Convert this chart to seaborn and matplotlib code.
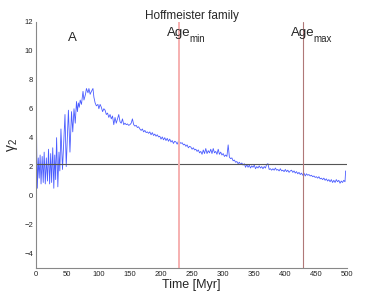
import numpy as np
import pandas as pd
import seaborn as sns
import matplotlib
matplotlib.use("Agg")
import matplotlib.pyplot as plt

# # DATA

time_myr = [
    0, 1, 2, 3.5, 5, 6.5, 8, 9.8, 11.5, 13, 14.8, 16.5, 18.3, 20, 21.8, 23.5,
    25, 26.8, 28.5, 30, 31.5, 33, 35, 36.8, 38.2, 40, 42.5, 46.5, 48.5, 52,
    54.5, 57, 59, 61, 63, 65, 66.5, 68, 69.5, 71, 73, 75.5, 77, 79.5, 81,
    83.5, 85, 87, 89, 91.5, 93, 95, 97, 99.5, 101, 103, 105, 107, 109, 111,
    113, 115, 117, 119, 121, 123, 125, 127, 129, 131, 133, 135, 137, 139,
    141, 143, 145, 147, 149, 151, 153, 155, 157, 159, 161, 163, 165, 167,
    169, 171, 173, 175, 177, 179, 181, 183, 185, 187, 189, 191, 193, 195,
    197, 199, 201, 203, 205, 207, 209, 211, 213, 215, 217, 219, 221, 223,
    225, 227, 229, 231, 233, 235, 237, 239, 241, 243, 245, 247, 249, 251,
    253, 255, 257, 259, 261, 263, 265, 267, 269, 271, 273, 275, 277, 279,
    281, 283, 285, 287, 289, 291, 293, 295, 297, 299, 301, 303, 305, 307,
    309, 311, 313, 315, 317, 319, 321, 323, 325, 327, 329, 331, 333, 335,
    337, 339, 341, 343, 345, 347, 349, 351, 353, 355, 357, 359, 361, 363,
    365, 367, 369, 371, 373, 375, 377, 379, 381, 383, 385, 387, 389, 391,
    393, 395, 397, 399, 401, 403, 405, 407, 409, 411, 413, 415, 417, 419,
    421, 423, 425, 427, 429, 431, 433, 435, 437, 439, 441, 443, 445, 447,
    449, 451, 453, 455, 457, 459, 461, 463, 465, 467, 469, 471, 473, 475,
    477, 479, 481, 483, 485, 487, 489, 491, 493, 495, 497, 498,
]

gamma2 = [
    8.5, 3.2, 0.5, 2.6, 1.2, 2.8, 0.8, 2.7, 0.9, 3.0, 0.8, 2.6, 1.0, 3.2, 0.8, 2.9,
    0.9, 3.3, 0.5, 2.8, 1.1, 4.0, 0.6, 3.0, 1.7, 4.6, 1.8, 5.6, 2.0, 5.9,
    3.0, 5.8, 4.4, 6.0, 5.0, 6.5, 5.8, 6.4, 6.1, 6.6, 6.3, 7.2, 6.6, 7.0, 7.4,
    7.1, 7.4, 7.0, 7.2, 7.4, 6.8, 6.4, 6.2, 6.3, 6.0, 6.3, 6.1, 5.8, 6.0, 5.9,
    5.6, 5.7, 5.4, 5.6, 5.3, 5.5, 4.9, 5.4, 5.0, 5.3, 5.6, 5.1, 5.0, 5.3,
    4.9, 5.0, 4.9, 4.95, 4.85, 4.9, 5.0, 5.3, 4.9, 4.8, 4.85, 4.7, 4.75, 4.6,
    4.5, 4.6, 4.4, 4.5, 4.35, 4.4, 4.3, 4.4, 4.2, 4.35, 4.15, 4.25, 4.1, 4.2,
    4.05, 4.1, 3.9, 4.05, 3.85, 4.0, 3.8, 3.95, 3.75, 3.9, 3.7, 3.8, 3.6, 3.75,
    3.7, 3.55, 3.75, 3.7, 3.6, 3.65, 3.5, 3.55, 3.4, 3.5, 3.3, 3.4, 3.35, 3.2,
    3.3, 3.15, 3.2, 3.05, 3.15, 2.95, 3.05, 2.85, 3.15, 2.9, 3.25, 2.9, 3.1, 2.95,
    3.2, 2.9, 3.25, 2.95, 3.05, 2.85, 3.2, 2.85, 3.0, 2.8, 2.9, 2.7, 2.8, 2.7,
    3.5, 2.65, 2.55, 2.6, 2.4, 2.45, 2.3, 2.35, 2.2, 2.3, 2.15, 2.25, 2.1, 2.2,
    1.95, 2.15, 1.95, 2.1, 1.9, 2.05, 1.95, 2.1, 1.85, 2.0, 1.9, 2.05, 1.9, 2.0,
    1.85, 2.0, 1.9, 2.15, 2.2, 1.8, 1.85, 1.75, 1.85, 1.75, 1.9, 1.75, 1.8, 1.7,
    1.85, 1.7, 1.75, 1.65, 1.8, 1.65, 1.75, 1.6, 1.7, 1.75, 1.6, 1.7, 1.55, 1.65,
    1.5, 1.6, 1.45, 1.55, 1.4, 1.55, 1.35, 1.5, 1.4, 1.45, 1.35, 1.4, 1.3, 1.35,
    1.25, 1.3, 1.2, 1.3, 1.15, 1.2, 1.1, 1.2, 1.05, 1.15, 1.0, 1.1, 0.95, 1.1,
    0.9, 1.05, 0.9, 1.1, 0.95, 1.05, 0.85, 1.0, 0.9, 1.05, 0.95, 1.7,
]

age_min = 230
age_max = 430
gamma_ref = 2.2

# # STYLE

sns.set_style("white")
plt.rcParams['font.family'] = ['Liberation Sans', 'DejaVu Sans']
plt.rcParams['mathtext.fontset'] = 'custom'
plt.rcParams['mathtext.rm'] = 'Liberation Sans'
plt.rcParams['mathtext.it'] = 'Liberation Sans:italic'

df = pd.DataFrame({"time": time_myr, "gamma2": gamma2})

fig = plt.figure(figsize=(3.88, 2.93), dpi=100)
ax = fig.add_axes([0.093, 0.086, 0.801, 0.839])

sns.lineplot(data=df, x="time", y="gamma2", ax=ax, color="#4a5cff", lw=0.6)

ax.axhline(gamma_ref, color="#555555", lw=0.8)
ax.axvline(age_min, color="#f6b0b0", lw=1.4)
ax.axvline(age_max, color="#b07878", lw=0.8)

ax.set_xlim(0, 500)
ax.set_ylim(-5, 12)
ax.set_xticks(np.arange(0, 501, 50))
ax.set_yticks(np.arange(-4, 13, 2))
ax.set_yticklabels([str(v).replace("-", "\u2212") for v in range(-4, 13, 2)])
ax.tick_params(direction="in", length=2.5, width=0.6, labelsize=5.5,
               color="#666666", labelcolor="#222222", pad=2)

sns.despine(ax=ax)
for side in ["left", "bottom"]:
    ax.spines[side].set_color("#888888")
    ax.spines[side].set_linewidth(0.8)

ax.set_xlabel("Time [Myr]", fontsize=9, labelpad=1)
ax.set_ylabel(r"$\mathregular{\gamma_2}$", fontsize=10, labelpad=3)
ax.set_title("Hoffmeister family", fontsize=8.5, pad=2.5)

# labels with MATLAB-like subscripts
ax.text(51, 10.7, "A", fontsize=9.5)
ax.text(211, 11.0, "Age", fontsize=9.5)
ax.text(246, 10.6, "min", fontsize=7)
ax.text(410, 11.0, "Age", fontsize=9.5)
ax.text(446, 10.6, "max", fontsize=7)

plt.savefig("out.png", dpi=100)
plt.close()
